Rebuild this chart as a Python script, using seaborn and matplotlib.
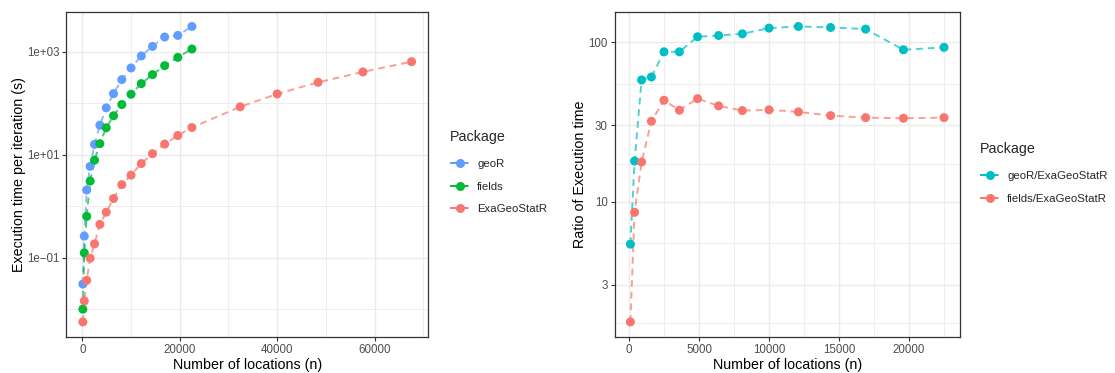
import numpy as np
import pandas as pd
import matplotlib
matplotlib.use("Agg")
import matplotlib.pyplot as plt
from matplotlib.lines import Line2D
from matplotlib.ticker import FixedLocator, NullFormatter
import seaborn as sns

# Problem sizes (number of spatial locations)
n_small = [100, 400, 900, 1600, 2500, 3600, 4900, 6400, 8100, 10000,
           12100, 14400, 16900, 19600, 22500]
n_large = n_small + [32400, 40000, 48400, 57600, 67600]

# Execution time per iteration (seconds)
time_geor = [0.0305, 0.26, 2.05, 5.9, 15.8, 37.3, 81, 153, 287, 483,
             826, 1267, 1928, 2070, 3090]
time_fields = [0.0099, 0.123, 0.63, 3.06, 7.8, 16.3, 33.2, 56.8, 94, 149,
               240, 358, 535, 776, 1128]
time_exa = [0.0056, 0.0143, 0.036, 0.097, 0.184, 0.44, 0.76, 1.40, 2.61, 4.0,
            6.7, 10.4, 16.0, 23.5, 33.6, 84.8, 151, 254, 404, 640]

# Speed-up ratios relative to ExaGeoStatR
ratio_geor = [5.41, 17.96, 57.9, 60.4, 86.9, 86.9, 108, 110, 112.7, 122.4,
              125.3, 123.5, 120.6, 89.5, 92.7]
ratio_fields = [1.76, 8.57, 17.7, 31.9, 43.2, 37.4, 44.2, 39.8, 37.2, 37.6,
                36.5, 34.6, 33.6, 33.3, 33.6]

pkg_left = ["geoR", "fields", "ExaGeoStatR"]
pkg_right = ["geoR/ExaGeoStatR", "fields/ExaGeoStatR"]

col_left = {"geoR": "#619CFF", "fields": "#00BA38", "ExaGeoStatR": "#F8766D"}
col_right = {"geoR/ExaGeoStatR": "#00BFC4", "fields/ExaGeoStatR": "#F8766D"}

df_time = pd.concat([
    pd.DataFrame({"n": n_small, "value": time_geor, "Package": "geoR"}),
    pd.DataFrame({"n": n_small, "value": time_fields, "Package": "fields"}),
    pd.DataFrame({"n": n_large, "value": time_exa, "Package": "ExaGeoStatR"}),
], ignore_index=True)

df_ratio = pd.concat([
    pd.DataFrame({"n": n_small, "value": ratio_geor, "Package": "geoR/ExaGeoStatR"}),
    pd.DataFrame({"n": n_small, "value": ratio_fields, "Package": "fields/ExaGeoStatR"}),
], ignore_index=True)

sns.set_theme(style="white")
plt.rcParams["font.family"] = ["Liberation Sans", "DejaVu Sans"]

W, H = 1115, 373
fig = plt.figure(figsize=(W / 100, H / 100), dpi=100)

def px_axes(x0, x1, y0, y1):
    return fig.add_axes([x0 / W, 1 - y1 / H, (x1 - x0) / W, (y1 - y0) / H])

ax1 = px_axes(66.4, 428, 11.7, 336.7)
ax2 = px_axes(614.7, 959.7, 11.7, 336.7)

GRID = "#EBEBEB"
TICKC = "#4D4D4D"
DASH = (0, (3.5, 2.5))

def draw(ax, df, order, pal):
    sns.lineplot(data=df, x="n", y="value", hue="Package", hue_order=order,
                 palette=pal, ax=ax, linewidth=1.4, alpha=0.7,
                 legend=False, zorder=3)
    for ln in ax.get_lines():
        ln.set_linestyle(DASH)
    sns.scatterplot(data=df, x="n", y="value", hue="Package", hue_order=order,
                    palette=pal, ax=ax, s=42, linewidth=0, legend=False,
                    zorder=4)

def expand(vals, log=False, frac=0.05):
    v = np.log10(vals) if log else np.asarray(vals, dtype=float)
    lo, hi = v.min(), v.max()
    pad = (hi - lo) * frac
    lo, hi = lo - pad, hi + pad
    return (10 ** lo, 10 ** hi) if log else (lo, hi)

def style(ax, xmaj, xmin, ymaj, ymin, ylabels, xlabel, ylabel):
    ax.set_yscale("log")
    ax.xaxis.set_major_locator(FixedLocator(xmaj))
    ax.xaxis.set_minor_locator(FixedLocator(xmin))
    ax.yaxis.set_major_locator(FixedLocator(ymaj))
    ax.yaxis.set_minor_locator(FixedLocator(ymin))
    ax.set_xticklabels([str(v) for v in xmaj])
    ax.set_yticklabels(ylabels)
    ax.yaxis.set_minor_formatter(NullFormatter())
    ax.grid(True, which="major", color=GRID, linewidth=1.0, zorder=0)
    ax.grid(True, which="minor", color=GRID, linewidth=0.6, zorder=0)
    ax.set_axisbelow(True)
    for sp in ax.spines.values():
        sp.set_color("#333333")
        sp.set_linewidth(0.9)
    ax.tick_params(which="major", length=3, width=0.8, color="#333333",
                   labelsize=8.3, labelcolor=TICKC, pad=2,
                   bottom=True, left=True)
    ax.tick_params(which="minor", length=0)
    ax.set_xlabel(xlabel, fontsize=10.3, color="black", labelpad=2)
    ax.set_ylabel(ylabel, fontsize=10.3, color="black", labelpad=1)

draw(ax1, df_time, pkg_left, col_left)
draw(ax2, df_ratio, pkg_right, col_right)

style(ax1, [0, 20000, 40000, 60000], [10000, 30000, 50000, 70000],
      [1e-1, 1e1, 1e3], [1e-2, 1e0, 1e2], ["1e\u221201", "1e+01", "1e+03"],
      "Number of locations (n)", "Execution time per iteration (s)")
style(ax2, [0, 5000, 10000, 15000, 20000], [2500, 7500, 12500, 17500, 22500],
      [3, 10, 30, 100], [np.sqrt(3), np.sqrt(30), np.sqrt(300), np.sqrt(3000)],
      ["3", "10", "30", "100"],
      "Number of locations (n)", "Ratio of Execution time")

ax1.set_xlim(*expand(df_time["n"]))
ax1.set_ylim(*expand(df_time["value"], log=True))
ax2.set_xlim(*expand(df_ratio["n"]))
ax2.set_ylim(*expand(df_ratio["value"], log=True))

def legend(ax, order, pal, x, y):
    handles = [Line2D([0], [0], color=pal[k], linestyle=DASH, linewidth=1.4,
                      marker="o", markersize=6.5, markeredgewidth=0,
                      markerfacecolor=pal[k])
               for k in order]
    leg = fig.legend(handles, order, title="Package", loc="upper left",
                     bbox_to_anchor=(x / W, 1 - y / H), frameon=False,
                     fontsize=8.2, title_fontsize=10.3, handlelength=1.8,
                     handletextpad=0.6, labelspacing=1.1, borderpad=0,
                     borderaxespad=0)
    leg._legend_box.align = "left"
    leg._legend_box.sep = 11

legend(ax1, pkg_left, col_left, 450, 130)
legend(ax2, pkg_right, col_right, 980, 142)

fig.savefig("out.png", dpi=100)
